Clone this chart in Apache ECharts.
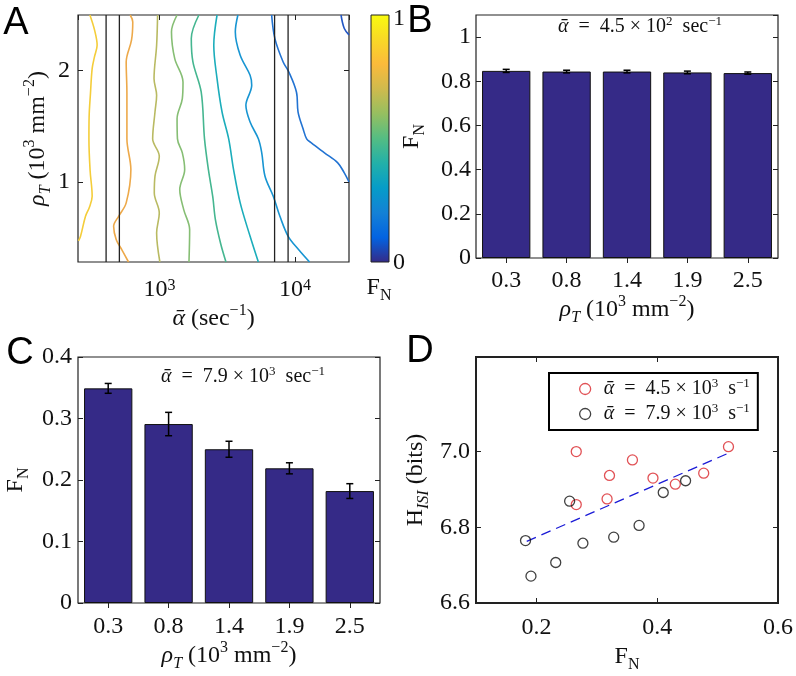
<!DOCTYPE html>
<html><head><meta charset="utf-8">
<script src="https://cdn.jsdelivr.net/npm/echarts@6/dist/echarts.min.js"></script>
<style>html,body{margin:0;padding:0;background:#fff}#c{width:796px;height:676px}</style>
</head><body><div id="c"></div>
<script>
// ---------------- Panel A: contour lines (alpha [sec^-1], rho_T [10^3 mm^-2]) ----------------
const contourLevels = [0.9, 0.8, 0.7, 0.6, 0.5, 0.4, 0.3, 0.2, 0.1];
const contourF90 = [[306,2.5],[331,2.366],[346,2.228],[331,2.126],[318,2.018],[309,1.796],[302,1.586],[301,1.387],[307,1.105],[318,0.871],[304,0.775],[284,0.691],[261,0.511],[252,0.47]];
const contourF80 = [[607,2.5],[634,2.438],[621,2.276],[567,2.078],[574,1.796],[574,1.387],[614,1.111],[567,0.811],[499,0.691],[458,0.601],[479,0.48],[527,0.39],[590,0.28]];
const contourF70 = [[967,2.5],[951,2.228],[910,1.928],[951,1.778],[925,1.628],[889,1.387],[995,1.231],[925,1.051],[914,0.901],[995,0.721],[951,0.541],[1005,0.28]];
const contourF60 = [[1346,2.5],[1224,2.348],[1294,2.108],[1489,1.898],[1472,1.748],[1346,1.568],[1355,1.387],[1472,1.261],[1532,1.111],[1409,0.931],[1507,0.751],[1667,0.571],[1648,0.28]];
const contourF50 = [[1950,2.5],[1714,2.288],[1762,2.078],[2028,1.808],[2146,1.387],[2296,1.105],[2470,0.865],[2582,0.661],[2825,0.444],[3090,0.28]];
const contourF40 = [[2655,2.5],[2512,2.228],[2655,1.928],[2891,1.628],[3236,1.387],[3516,1.111],[3936,0.811],[4656,0.511],[5358,0.28]];
const contourF30 = [[3784,2.5],[3622,2.348],[3936,2.138],[4656,1.958],[4786,1.868],[4335,1.688],[4656,1.538],[5358,1.387],[5675,1.261],[5998,1.051],[6902,0.871],[7727,0.691],[8892,0.511],[10641,0.39],[12794,0.28]];
const contourF20 = [[6714,2.5],[7096,2.288],[8166,2.078],[8995,1.988],[10233,1.808],[10520,1.628],[11455,1.477],[12170,1.387],[13183,1.351],[16482,1.261],[20654,1.171],[23081,1.081],[25000,1.0]];
const contourF10 = [[21827,2.5],[23081,2.378],[25000,2.321]];
const contourLines = [contourF90, contourF80, contourF70, contourF60, contourF50, contourF40, contourF30, contourF20, contourF10];
const contourColors = ['#f4cd3a','#eda94a','#b9ba62','#86be74','#45b690','#1cadbb','#1895d2','#2273d2','#2256c4'];
const bandEdges = [403, 505, 7060, 8880];           // alpha band limits (vertical lines)
const rhoRange = [0.28, 2.5];
const parulaStops = ['#352a87','#0363e1','#1481d6','#069cc8','#22b0a9','#54bd83','#96bf60','#cfba4d','#fbba3b','#f8d926','#f9fb0e'];

// ---------------- Panels B and C: bars ----------------
const rhoCategories = ['0.3', '0.8', '1.4', '1.9', '2.5'];
const fnB = [0.847, 0.844, 0.844, 0.840, 0.837];
const errB = [0.007, 0.006, 0.006, 0.006, 0.005];
const fnC = [0.349, 0.291, 0.250, 0.219, 0.182];
const errC = [0.008, 0.019, 0.013, 0.009, 0.012];

// ---------------- Panel D: scatter ----------------
const redFN   = [0.266, 0.266, 0.321, 0.317, 0.359, 0.393, 0.430, 0.477, 0.518];
const redH    = [7.000, 6.860, 6.937, 6.875, 6.978, 6.930, 6.914, 6.943, 7.013];
const blackFN = [0.182, 0.191, 0.232, 0.255, 0.277, 0.328, 0.370, 0.410, 0.447];
const blackH  = [6.765, 6.671, 6.707, 6.869, 6.758, 6.774, 6.805, 6.892, 6.923];
const fitFN = [0.184, 0.518];
const fitH  = [6.763, 6.996];

// ---------------- styling ----------------
const SERIF = '"Liberation Serif", "Times New Roman", serif';
const SANS = '"Liberation Sans", Arial, sans-serif';
const TXT = '#111';
const FS = 24;
const rich = {
  i:    {fontFamily: SERIF, fontSize: FS, fontStyle: 'italic', color: TXT, lineHeight: 32},
  sup:  {fontFamily: SERIF, fontSize: 16, color: TXT, verticalAlign: 'top', lineHeight: 16},
  sub:  {fontFamily: SERIF, fontSize: 16, color: TXT, verticalAlign: 'bottom', lineHeight: 16},
  isub: {fontFamily: SERIF, fontSize: 16, fontStyle: 'italic', color: TXT, verticalAlign: 'bottom', lineHeight: 16}
};
const smallRich = {
  i:    {fontFamily: SERIF, fontSize: 20, fontStyle: 'italic', color: TXT, lineHeight: 24},
  sup:  {fontFamily: SERIF, fontSize: 13, color: TXT, verticalAlign: 'top', lineHeight: 13}
};
const legRich = {
  i:    {fontFamily: SERIF, fontSize: 20, fontStyle: 'italic', color: TXT, lineHeight: 24},
  sup:  {fontFamily: SERIF, fontSize: 13, color: TXT, verticalAlign: 'top', lineHeight: 13}
};
const labelFont = {fontFamily: SERIF, fontSize: FS, color: TXT};
const nameFont = {fontFamily: SERIF, fontSize: FS, color: TXT, lineHeight: 32, rich: rich};
const tickIn = (extra) => Object.assign({show: true, inside: true, length: 5, lineStyle: {color: '#222', width: 1}}, extra || {});
const noLine = {show: false};
const noSplit = {show: false};
const rhoName = '{i|ρ}{isub|T} (10{sup|3} mm{sup|−2})';
const fnName = 'F{sub|N}';

function gridBox(left, top, width, height, bw) {
  return {left, top, width, height, show: true, borderColor: '#222', borderWidth: bw || 1.2,
          backgroundColor: 'transparent', containLabel: false, outerBoundsMode: 'none'};
}
function mirror(base, pos) {
  const m = Object.assign({}, base);
  m.position = pos;
  m.name = '';
  m.axisLabel = Object.assign({}, base.axisLabel || {}, {show: false});
  m.axisTick = Object.assign({}, base.axisTick || {}, {show: true, inside: true, length: 5});
  m.axisLine = noLine;
  return m;
}

// Axes
const xA = {type: 'log', logBase: 10, gridIndex: 0, min: 250, max: 25000, axisLine: noLine, splitLine: noSplit,
  axisTick: tickIn(), minorTick: {show: false},
  axisLabel: Object.assign({}, labelFont, {margin: 16, rich: rich, showMinLabel: false, showMaxLabel: false,
    formatter: v => { const e = Math.log10(v); const r = Math.round(e); return Math.abs(e - r) < 1e-6 ? '10{sup|' + r + '}' : ''; }}),
  name: '{i|ᾱ} (sec{sup|−1})', nameLocation: 'middle', nameGap: 37, nameTextStyle: nameFont};
const yA = {type: 'value', gridIndex: 0, min: rhoRange[0], max: rhoRange[1], axisLine: noLine, splitLine: noSplit,
  axisTick: tickIn({customValues: [1, 2]}),
  axisLabel: Object.assign({}, labelFont, {margin: 8, customValues: [1, 2], formatter: v => String(Math.round(v))}),
  name: rhoName, nameLocation: 'middle', nameGap: 22, nameTextStyle: nameFont};

const xB = {type: 'category', gridIndex: 1, data: rhoCategories, axisLine: noLine, splitLine: noSplit,
  axisTick: {show: false}, axisLabel: Object.assign({}, labelFont, {margin: 11}),
  name: rhoName, nameLocation: 'middle', nameGap: 33, nameTextStyle: nameFont};
const yB = {type: 'value', gridIndex: 1, min: 0, max: 1.1, interval: 0.2, axisLine: noLine, splitLine: noSplit,
  axisTick: tickIn(), axisLabel: Object.assign({}, labelFont, {margin: 5, showMaxLabel: false}),
  name: fnName, nameLocation: 'middle', nameGap: 48, nameTextStyle: nameFont};

const xC = {type: 'category', gridIndex: 2, data: rhoCategories, axisLine: noLine, splitLine: noSplit,
  axisTick: {show: false}, axisLabel: Object.assign({}, labelFont, {margin: 12}),
  name: rhoName, nameLocation: 'middle', nameGap: 34, nameTextStyle: nameFont};
const yC = {type: 'value', gridIndex: 2, min: 0, max: 0.4, interval: 0.1, axisLine: noLine, splitLine: noSplit,
  axisTick: tickIn(), axisLabel: Object.assign({}, labelFont, {margin: 6}),
  name: fnName, nameLocation: 'middle', nameGap: 46, nameTextStyle: nameFont};

const xD = {type: 'value', gridIndex: 3, min: 0.1, max: 0.6, axisLine: noLine, splitLine: noSplit,
  axisTick: tickIn({customValues: [0.2, 0.4, 0.6]}),
  axisLabel: Object.assign({}, labelFont, {margin: 13, customValues: [0.2, 0.4, 0.6], formatter: v => v.toFixed(1)}),
  name: fnName, nameLocation: 'middle', nameGap: 37, nameTextStyle: nameFont};
const yD = {type: 'value', gridIndex: 3, min: 6.6, max: 7.25, axisLine: noLine, splitLine: noSplit,
  axisTick: tickIn({customValues: [6.6, 6.8, 7.0]}),
  axisLabel: Object.assign({}, labelFont, {margin: 6, customValues: [6.6, 6.8, 7.0], formatter: v => v.toFixed(1)}),
  name: 'H{isub|ISI} (bits)', nameLocation: 'middle', nameGap: 44, nameTextStyle: nameFont};

const xBtop = mirror(xB, 'top'); xBtop.axisTick = tickIn({alignWithLabel: true});
const xCtop = mirror(xC, 'top'); xCtop.axisTick = tickIn({alignWithLabel: true});

function errorBarItem(params, api) {
  const xi = api.value(0);
  const lo = api.coord([xi, api.value(1)]);
  const hi = api.coord([xi, api.value(2)]);
  const w = 3.5;
  const st = {stroke: '#000', lineWidth: 1.5};
  return {type: 'group', children: [
    {type: 'line', shape: {x1: lo[0], y1: lo[1], x2: hi[0], y2: hi[1]}, style: st},
    {type: 'line', shape: {x1: lo[0] - w, y1: lo[1], x2: lo[0] + w, y2: lo[1]}, style: st},
    {type: 'line', shape: {x1: hi[0] - w, y1: hi[1], x2: hi[0] + w, y2: hi[1]}, style: st}
  ]};
}

const series = [];
contourLines.forEach((pts, k) => {
  series.push({type: 'line', name: 'F_N = ' + contourLevels[k], xAxisIndex: 0, yAxisIndex: 0, data: pts,
    smooth: 0.35, showSymbol: false, symbol: 'none', clip: true, silent: true,
    lineStyle: {color: contourColors[k], width: 1.6}, z: 2});
});
bandEdges.forEach(a => {
  series.push({type: 'line', xAxisIndex: 0, yAxisIndex: 0, data: [[a, rhoRange[0]], [a, rhoRange[1]]],
    showSymbol: false, symbol: 'none', silent: true, lineStyle: {color: '#222', width: 1.3}, z: 3});
});
const barStyle = {color: '#352a87', borderColor: '#111', borderWidth: 1};
series.push({type: 'bar', xAxisIndex: 2, yAxisIndex: 2, data: fnB, barWidth: '80%', itemStyle: barStyle, silent: true});
series.push({type: 'custom', xAxisIndex: 2, yAxisIndex: 2, renderItem: errorBarItem, encode: {x: 0, y: [1, 2]}, z: 5,
  data: fnB.map((v, i) => [i, v - errB[i], v + errB[i]]), silent: true});
series.push({type: 'bar', xAxisIndex: 4, yAxisIndex: 4, data: fnC, barWidth: '80%', itemStyle: barStyle, silent: true});
series.push({type: 'custom', xAxisIndex: 4, yAxisIndex: 4, renderItem: errorBarItem, encode: {x: 0, y: [1, 2]}, z: 5,
  data: fnC.map((v, i) => [i, v - errC[i], v + errC[i]]), silent: true});
series.push({type: 'line', xAxisIndex: 6, yAxisIndex: 6, data: fitFN.map((x, i) => [x, fitH[i]]),
  showSymbol: false, symbol: 'none', silent: true, lineStyle: {color: '#1a1ad6', width: 1.3, type: [10, 6]}, z: 2});
series.push({type: 'scatter', name: 'alpha45', xAxisIndex: 6, yAxisIndex: 6, data: redFN.map((x, i) => [x, redH[i]]),
  symbol: 'circle', symbolSize: 10, itemStyle: {color: 'rgba(0,0,0,0)', borderColor: '#d9262a', borderWidth: 1.3}, z: 3});
series.push({type: 'scatter', name: 'alpha79', xAxisIndex: 6, yAxisIndex: 6, data: blackFN.map((x, i) => [x, blackH[i]]),
  symbol: 'circle', symbolSize: 10, itemStyle: {color: 'rgba(0,0,0,0)', borderColor: '#111', borderWidth: 1.3}, z: 3});

const legendLabels = {
  alpha45: '{i|ᾱ}  =  4.5 × 10{sup|3}  s{sup|−1}',
  alpha79: '{i|ᾱ}  =  7.9 × 10{sup|3}  s{sup|−1}'
};

const graphic = [
  {type: 'text', x: 16, y: 24, style: {text: 'A', font: '38px ' + SANS, fill: '#000', align: 'center', verticalAlign: 'middle'}},
  {type: 'text', x: 420, y: 22, style: {text: 'B', font: '38px ' + SANS, fill: '#000', align: 'center', verticalAlign: 'middle'}},
  {type: 'text', x: 20, y: 354, style: {text: 'C', font: '38px ' + SANS, fill: '#000', align: 'center', verticalAlign: 'middle'}},
  {type: 'text', x: 420, y: 352, style: {text: 'D', font: '38px ' + SANS, fill: '#000', align: 'center', verticalAlign: 'middle'}},
  {type: 'text', x: 640, y: 27, style: {text: '{i|ᾱ}  =  4.5 × 10{sup|2}  sec{sup|−1}', fontFamily: SERIF, fontSize: 20, fill: TXT,
    lineHeight: 24, align: 'center', verticalAlign: 'middle', rich: smallRich}},
  {type: 'text', x: 243, y: 377, style: {text: '{i|ᾱ}  =  7.9 × 10{sup|3}  sec{sup|−1}', fontFamily: SERIF, fontSize: 20, fill: TXT,
    lineHeight: 24, align: 'center', verticalAlign: 'middle', rich: smallRich}},
  // colorbar
  {type: 'rect', shape: {x: 371, y: 15, width: 18, height: 247},
    style: {fill: {type: 'linear', x: 0, y: 1, x2: 0, y2: 0,
      colorStops: parulaStops.map((c, i) => ({offset: i / (parulaStops.length - 1), color: c}))},
      stroke: '#222', lineWidth: 1}},
  {type: 'text', x: 393, y: 19, style: {text: '1', fontFamily: SERIF, fontSize: FS, fill: TXT, align: 'left', verticalAlign: 'middle'}},
  {type: 'text', x: 393, y: 263, style: {text: '0', fontFamily: SERIF, fontSize: FS, fill: TXT, align: 'left', verticalAlign: 'middle'}},
  {type: 'text', x: 379, y: 288, style: {text: 'F{sub|N}', fontFamily: SERIF, fontSize: FS, fill: TXT, lineHeight: 32,
    align: 'center', verticalAlign: 'middle', rich: rich}}
];

const option = {
  animation: false,
  backgroundColor: '#fff',
  grid: [
    gridBox(78, 15, 271, 247, 1.2),
    gridBox(476, 15, 302, 243, 1.2),
    gridBox(78, 357, 302, 246, 1.2),
    gridBox(476, 357, 302, 246, 2)
  ],
  xAxis: [xA, mirror(xA, 'top'), xB, xBtop, xC, xCtop, xD, mirror(xD, 'top')],
  yAxis: [yA, mirror(yA, 'right'), yB, mirror(yB, 'right'), yC, mirror(yC, 'right'), yD, mirror(yD, 'right')],
  legend: {
    left: 549, top: 373, orient: 'vertical', data: [
      {name: 'alpha45', icon: 'circle', itemStyle: {color: 'rgba(0,0,0,0)', borderColor: '#d9262a', borderWidth: 1.3}},
      {name: 'alpha79', icon: 'circle', itemStyle: {color: 'rgba(0,0,0,0)', borderColor: '#111', borderWidth: 1.3}}
    ],
    formatter: n => legendLabels[n],
    itemWidth: 11, itemHeight: 11, itemGap: 1,
    padding: [4, 8, 4, 30],
    borderColor: '#000', borderWidth: 2, backgroundColor: '#fff',
    textStyle: {fontFamily: SERIF, fontSize: 20, color: TXT, lineHeight: 24, padding: [0, 0, 0, 8], rich: legRich},
    selectedMode: false
  },
  graphic: graphic,
  series: series
};
const chart = echarts.init(document.getElementById('c'), null, {renderer: 'canvas'});
chart.setOption(option);
</script></body></html>
